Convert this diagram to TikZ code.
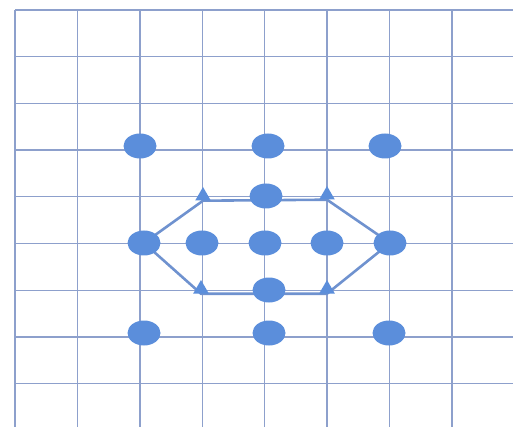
\documentclass[tikz,border=0pt]{standalone}
\usepackage{xcolor}
\usepackage{tikz}
\usetikzlibrary{shapes.geometric,backgrounds}

\definecolor{gridblue}{HTML}{8DA0CC}
\definecolor{dotblue}{HTML}{5B8EDB}
\definecolor{edgeblue}{HTML}{6F92CF}

\begin{document}
\begin{tikzpicture}[x=1pt, y=-1pt,
    site/.style={ellipse, fill=dotblue, minimum width=33pt, minimum height=25pt, inner sep=0pt},
    corner/.style={regular polygon, regular polygon sides=3, fill=dotblue, minimum size=18pt, inner sep=0pt},
    hexedge/.style={edgeblue, line width=2.6pt}]
    \useasboundingbox (0,0) rectangle (513,427);
    \begin{scope}[on background layer]
        \foreach \i in {0,...,7}
            \draw[gridblue, line width=1.4pt] ({15+62.4*\i},10) -- ({15+62.4*\i},427);
        \foreach \j in {0,...,8}
            \draw[gridblue, line width=1.4pt] (15,{10+46.7*\j}) -- (513,{10+46.7*\j});
    \end{scope}
    % outer sites
    \node[site] (a1) at (140,146) {};
    \node[site] (a2) at (268,146) {};
    \node[site] (a3) at (385,146) {};
    \node[site] (c1) at (144,333) {};
    \node[site] (c2) at (269,333) {};
    \node[site] (c3) at (389,333) {};
    % hexagon
    \node[site] (top) at (266,196) {};
    \node[site] (bot) at (269,290) {};
    \node[site] (l) at (144,243) {};
    \node[site] (m1) at (202,243) {};
    \node[site] (m2) at (265,243) {};
    \node[site] (m3) at (327,243) {};
    \node[site] (r) at (390,243) {};
    \node[corner] (tl) at (203,196) {};
    \node[corner] (tr) at (327,195) {};
    \node[corner] (br) at (327,289) {};
    \node[corner] (bl) at (201,289) {};
    \begin{scope}[on background layer]
        \draw[hexedge] (l.center) -- (tl.south) -- (tr.south) -- (r.center)
            -- (br.south) -- (bl.south) -- (l.center);
    \end{scope}
\end{tikzpicture}
\end{document}
